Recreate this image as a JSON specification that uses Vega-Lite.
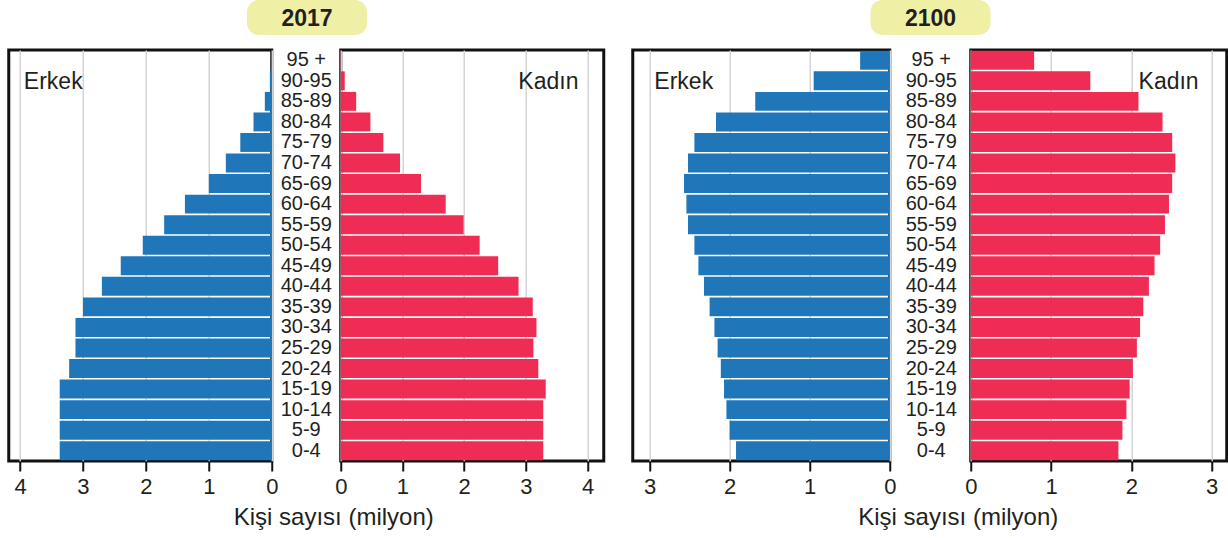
{
  "$schema": "https://vega.github.io/schema/vega-lite/v6.json",
  "padding": {"left": 6.5, "top": 0, "right": 0, "bottom": 0},
  "background": "white",
  "config": {
    "font": "Liberation Sans",
    "view": {"stroke": "#111111", "strokeWidth": 3},
    "axisX": {"domain": false, "tickColor": "#111111", "tickWidth": 2, "tickSize": 10, "labelPadding": 5, "labelFontSize": 22, "labelColor": "#231f20", "labelFlush": false, "labelOverlap": false, "gridColor": "#d4d4d4", "gridWidth": 1.5, "format": "d"}
  },
  "datasets": {
    "pop": [
      {"year": "2017", "sex": "Erkek", "age": "95 +", "value": 0.01},
      {"year": "2017", "sex": "Erkek", "age": "90-95", "value": 0.03},
      {"year": "2017", "sex": "Erkek", "age": "85-89", "value": 0.11},
      {"year": "2017", "sex": "Erkek", "age": "80-84", "value": 0.29},
      {"year": "2017", "sex": "Erkek", "age": "75-79", "value": 0.50},
      {"year": "2017", "sex": "Erkek", "age": "70-74", "value": 0.73},
      {"year": "2017", "sex": "Erkek", "age": "65-69", "value": 1.00},
      {"year": "2017", "sex": "Erkek", "age": "60-64", "value": 1.38},
      {"year": "2017", "sex": "Erkek", "age": "55-59", "value": 1.71},
      {"year": "2017", "sex": "Erkek", "age": "50-54", "value": 2.05},
      {"year": "2017", "sex": "Erkek", "age": "45-49", "value": 2.40},
      {"year": "2017", "sex": "Erkek", "age": "40-44", "value": 2.70},
      {"year": "2017", "sex": "Erkek", "age": "35-39", "value": 3.00},
      {"year": "2017", "sex": "Erkek", "age": "30-34", "value": 3.12},
      {"year": "2017", "sex": "Erkek", "age": "25-29", "value": 3.12},
      {"year": "2017", "sex": "Erkek", "age": "20-24", "value": 3.22},
      {"year": "2017", "sex": "Erkek", "age": "15-19", "value": 3.37},
      {"year": "2017", "sex": "Erkek", "age": "10-14", "value": 3.37},
      {"year": "2017", "sex": "Erkek", "age": "5-9", "value": 3.37},
      {"year": "2017", "sex": "Erkek", "age": "0-4", "value": 3.37},
      {"year": "2017", "sex": "Kadın", "age": "95 +", "value": 0.005},
      {"year": "2017", "sex": "Kadın", "age": "90-95", "value": 0.065},
      {"year": "2017", "sex": "Kadın", "age": "85-89", "value": 0.25},
      {"year": "2017", "sex": "Kadın", "age": "80-84", "value": 0.48},
      {"year": "2017", "sex": "Kadın", "age": "75-79", "value": 0.69},
      {"year": "2017", "sex": "Kadın", "age": "70-74", "value": 0.96},
      {"year": "2017", "sex": "Kadın", "age": "65-69", "value": 1.30},
      {"year": "2017", "sex": "Kadın", "age": "60-64", "value": 1.70},
      {"year": "2017", "sex": "Kadın", "age": "55-59", "value": 1.99},
      {"year": "2017", "sex": "Kadın", "age": "50-54", "value": 2.25},
      {"year": "2017", "sex": "Kadın", "age": "45-49", "value": 2.55},
      {"year": "2017", "sex": "Kadın", "age": "40-44", "value": 2.88},
      {"year": "2017", "sex": "Kadın", "age": "35-39", "value": 3.11},
      {"year": "2017", "sex": "Kadın", "age": "30-34", "value": 3.17},
      {"year": "2017", "sex": "Kadın", "age": "25-29", "value": 3.12},
      {"year": "2017", "sex": "Kadın", "age": "20-24", "value": 3.20},
      {"year": "2017", "sex": "Kadın", "age": "15-19", "value": 3.32},
      {"year": "2017", "sex": "Kadın", "age": "10-14", "value": 3.28},
      {"year": "2017", "sex": "Kadın", "age": "5-9", "value": 3.28},
      {"year": "2017", "sex": "Kadın", "age": "0-4", "value": 3.28},
      {"year": "2100", "sex": "Erkek", "age": "95 +", "value": 0.37},
      {"year": "2100", "sex": "Erkek", "age": "90-95", "value": 0.95},
      {"year": "2100", "sex": "Erkek", "age": "85-89", "value": 1.68},
      {"year": "2100", "sex": "Erkek", "age": "80-84", "value": 2.17},
      {"year": "2100", "sex": "Erkek", "age": "75-79", "value": 2.44},
      {"year": "2100", "sex": "Erkek", "age": "70-74", "value": 2.52},
      {"year": "2100", "sex": "Erkek", "age": "65-69", "value": 2.57},
      {"year": "2100", "sex": "Erkek", "age": "60-64", "value": 2.54},
      {"year": "2100", "sex": "Erkek", "age": "55-59", "value": 2.52},
      {"year": "2100", "sex": "Erkek", "age": "50-54", "value": 2.44},
      {"year": "2100", "sex": "Erkek", "age": "45-49", "value": 2.39},
      {"year": "2100", "sex": "Erkek", "age": "40-44", "value": 2.32},
      {"year": "2100", "sex": "Erkek", "age": "35-39", "value": 2.25},
      {"year": "2100", "sex": "Erkek", "age": "30-34", "value": 2.19},
      {"year": "2100", "sex": "Erkek", "age": "25-29", "value": 2.15},
      {"year": "2100", "sex": "Erkek", "age": "20-24", "value": 2.11},
      {"year": "2100", "sex": "Erkek", "age": "15-19", "value": 2.07},
      {"year": "2100", "sex": "Erkek", "age": "10-14", "value": 2.04},
      {"year": "2100", "sex": "Erkek", "age": "5-9", "value": 2.00},
      {"year": "2100", "sex": "Erkek", "age": "0-4", "value": 1.92},
      {"year": "2100", "sex": "Kadın", "age": "95 +", "value": 0.79},
      {"year": "2100", "sex": "Kadın", "age": "90-95", "value": 1.49},
      {"year": "2100", "sex": "Kadın", "age": "85-89", "value": 2.09},
      {"year": "2100", "sex": "Kadın", "age": "80-84", "value": 2.39},
      {"year": "2100", "sex": "Kadın", "age": "75-79", "value": 2.51},
      {"year": "2100", "sex": "Kadın", "age": "70-74", "value": 2.55},
      {"year": "2100", "sex": "Kadın", "age": "65-69", "value": 2.51},
      {"year": "2100", "sex": "Kadın", "age": "60-64", "value": 2.47},
      {"year": "2100", "sex": "Kadın", "age": "55-59", "value": 2.42},
      {"year": "2100", "sex": "Kadın", "age": "50-54", "value": 2.36},
      {"year": "2100", "sex": "Kadın", "age": "45-49", "value": 2.29},
      {"year": "2100", "sex": "Kadın", "age": "40-44", "value": 2.22},
      {"year": "2100", "sex": "Kadın", "age": "35-39", "value": 2.15},
      {"year": "2100", "sex": "Kadın", "age": "30-34", "value": 2.11},
      {"year": "2100", "sex": "Kadın", "age": "25-29", "value": 2.07},
      {"year": "2100", "sex": "Kadın", "age": "20-24", "value": 2.02},
      {"year": "2100", "sex": "Kadın", "age": "15-19", "value": 1.98},
      {"year": "2100", "sex": "Kadın", "age": "10-14", "value": 1.94},
      {"year": "2100", "sex": "Kadın", "age": "5-9", "value": 1.89},
      {"year": "2100", "sex": "Kadın", "age": "0-4", "value": 1.84}
    ]
  },
  "spacing": 25,
  "hconcat": [
    {
      "center": true,
      "spacing": 13,
      "vconcat": [
        {
          "width": 120, "height": 35,
          "view": {"fill": "#f0efa6", "stroke": null, "cornerRadius": 12},
          "data": {"values": [{"year": "2017"}]},
          "mark": {"type": "text", "fontSize": 23, "fontWeight": "bold", "color": "#231f20", "baseline": "middle", "align": "center", "dy": 1},
          "encoding": {"text": {"field": "year"}}
        },
        {
          "bounds": "flush",
          "spacing": 69,
          "hconcat": [
            {
              "width": 263, "height": 411,
              "layer": [
                {
                  "data": {"name": "pop"},
                  "transform": [{"filter": "datum.year === '2017' && datum.sex === 'Erkek'"}],
                  "mark": {"type": "bar", "color": "#1f77b9"},
                  "encoding": {
                    "x": {"field": "value", "type": "quantitative", "scale": {"domain": [0, 4.18], "reverse": true, "nice": false},
                      "axis": {"values": [0, 1, 2, 3, 4], "title": "Kişi sayısı (milyon)", "titleX": 324.5, "titleY": 63, "titleAlign": "center", "titleBaseline": "alphabetic", "titleFontSize": 24, "titleFontWeight": "normal", "titleColor": "#231f20", "grid": true}},
                    "y": {"field": "age", "type": "nominal", "scale": {"domain": ["95 +","90-95","85-89","80-84","75-79","70-74","65-69","60-64","55-59","50-54","45-49","40-44","35-39","30-34","25-29","20-24","15-19","10-14","5-9","0-4"], "paddingInner": 0.08, "paddingOuter": 0.04}, "axis": null}
                  }
                },
                {
                  "data": {"values": [{"label": "Erkek"}]},
                  "mark": {"type": "text", "align": "left", "baseline": "middle", "fontSize": 23, "color": "#231f20", "dy": 1},
                  "encoding": {
                    "x": {"datum": 3.94, "type": "quantitative"},
                    "y": {"datum": "90-95", "type": "nominal"},
                    "text": {"field": "label"}
                  }
                }
              ]
            },
            {
              "width": 263, "height": 411,
              "layer": [
                {
                  "data": {"name": "pop"},
                  "transform": [{"filter": "datum.year === '2017' && datum.sex === 'Kadın'"}],
                  "mark": {"type": "bar", "color": "#ee2c54"},
                  "encoding": {
                    "x": {"field": "value", "type": "quantitative", "scale": {"domain": [0, 4.26], "nice": false},
                      "axis": {"values": [0, 1, 2, 3, 4], "title": null, "grid": true}},
                    "y": {"field": "age", "type": "nominal", "scale": {"domain": ["95 +","90-95","85-89","80-84","75-79","70-74","65-69","60-64","55-59","50-54","45-49","40-44","35-39","30-34","25-29","20-24","15-19","10-14","5-9","0-4"], "paddingInner": 0.08, "paddingOuter": 0.04},
                      "axis": {"title": null, "orient": "left", "ticks": false, "tickSize": 0, "domain": false, "grid": false, "labelAlign": "center", "labelBaseline": "middle", "labelPadding": 35, "labelFontSize": 20, "labelColor": "#231f20"}}
                  }
                },
                {
                  "data": {"values": [{"label": "Kadın"}]},
                  "mark": {"type": "text", "align": "right", "baseline": "middle", "fontSize": 23, "color": "#231f20", "dy": 1},
                  "encoding": {
                    "x": {"datum": 3.85, "type": "quantitative"},
                    "y": {"datum": "90-95", "type": "nominal"},
                    "text": {"field": "label"}
                  }
                }
              ]
            }
          ]
        }
      ]
    },
    {
      "center": true,
      "spacing": 13,
      "vconcat": [
        {
          "width": 120, "height": 35,
          "view": {"fill": "#f0efa6", "stroke": null, "cornerRadius": 12},
          "data": {"values": [{"year": "2100"}]},
          "mark": {"type": "text", "fontSize": 23, "fontWeight": "bold", "color": "#231f20", "baseline": "middle", "align": "center", "dy": 1},
          "encoding": {"text": {"field": "year"}}
        },
        {
          "bounds": "flush",
          "spacing": 81,
          "hconcat": [
            {
              "width": 257, "height": 411,
              "layer": [
                {
                  "data": {"name": "pop"},
                  "transform": [{"filter": "datum.year === '2100' && datum.sex === 'Erkek'"}],
                  "mark": {"type": "bar", "color": "#1f77b9"},
                  "encoding": {
                    "x": {"field": "value", "type": "quantitative", "scale": {"domain": [0, 3.21], "reverse": true, "nice": false},
                      "axis": {"values": [0, 1, 2, 3], "title": "Kişi sayısı (milyon)", "titleX": 325, "titleY": 63, "titleAlign": "center", "titleBaseline": "alphabetic", "titleFontSize": 24, "titleFontWeight": "normal", "titleColor": "#231f20", "grid": true}},
                    "y": {"field": "age", "type": "nominal", "scale": {"domain": ["95 +","90-95","85-89","80-84","75-79","70-74","65-69","60-64","55-59","50-54","45-49","40-44","35-39","30-34","25-29","20-24","15-19","10-14","5-9","0-4"], "paddingInner": 0.08, "paddingOuter": 0.04}, "axis": null}
                  }
                },
                {
                  "data": {"values": [{"label": "Erkek"}]},
                  "mark": {"type": "text", "align": "left", "baseline": "middle", "fontSize": 23, "color": "#231f20", "dy": 1},
                  "encoding": {
                    "x": {"datum": 2.94, "type": "quantitative"},
                    "y": {"datum": "90-95", "type": "nominal"},
                    "text": {"field": "label"}
                  }
                }
              ]
            },
            {
              "width": 256, "height": 411,
              "layer": [
                {
                  "data": {"name": "pop"},
                  "transform": [{"filter": "datum.year === '2100' && datum.sex === 'Kadın'"}],
                  "mark": {"type": "bar", "color": "#ee2c54"},
                  "encoding": {
                    "x": {"field": "value", "type": "quantitative", "scale": {"domain": [0, 3.19], "nice": false},
                      "axis": {"values": [0, 1, 2, 3], "title": null, "grid": true}},
                    "y": {"field": "age", "type": "nominal", "scale": {"domain": ["95 +","90-95","85-89","80-84","75-79","70-74","65-69","60-64","55-59","50-54","45-49","40-44","35-39","30-34","25-29","20-24","15-19","10-14","5-9","0-4"], "paddingInner": 0.08, "paddingOuter": 0.04},
                      "axis": {"title": null, "orient": "left", "ticks": false, "tickSize": 0, "domain": false, "grid": false, "labelAlign": "center", "labelBaseline": "middle", "labelPadding": 40, "labelFontSize": 20, "labelColor": "#231f20"}}
                  }
                },
                {
                  "data": {"values": [{"label": "Kadın"}]},
                  "mark": {"type": "text", "align": "right", "baseline": "middle", "fontSize": 23, "color": "#231f20", "dy": 1},
                  "encoding": {
                    "x": {"datum": 2.84, "type": "quantitative"},
                    "y": {"datum": "90-95", "type": "nominal"},
                    "text": {"field": "label"}
                  }
                }
              ]
            }
          ]
        }
      ]
    }
  ]
}
